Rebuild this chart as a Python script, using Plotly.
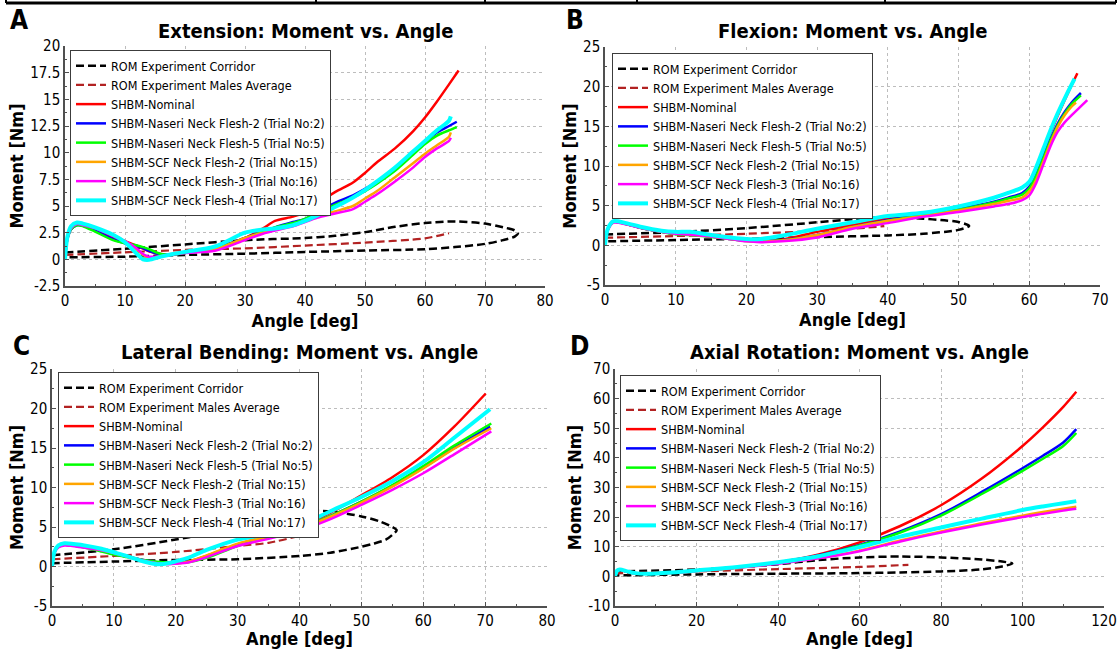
import plotly.graph_objects as go

W, H = 1120, 649
FONT = "DejaVu Sans Condensed, Liberation Sans, Arial, sans-serif"

# ---------------------------------------------------------------- series styling
CORRIDOR_NAME = "ROM Experiment Corridor"
AVERAGE_NAME = "ROM Experiment Males Average"
MODEL_NAMES = [
    "SHBM-Nominal",
    "SHBM-Naseri Neck Flesh-2 (Trial No:2)",
    "SHBM-Naseri Neck Flesh-5 (Trial No:5)",
    "SHBM-SCF Neck Flesh-2 (Trial No:15)",
    "SHBM-SCF Neck Flesh-3 (Trial No:16)",
    "SHBM-SCF Neck Flesh-4 (Trial No:17)",
]
MODEL_COLORS = ["#ff0000", "#0000ff", "#00ff00", "#ffa500", "#ff00ff", "#00ffff"]
MODEL_WIDTHS = [2.5, 2.5, 2.5, 2.5, 2.5, 4]

# ---------------------------------------------------------------- A: extension
EXT_CORRIDOR_ANGLE = [0, 10, 20, 30, 40, 45, 50, 55, 60, 65, 70, 73, 74.8, 75.5, 75, 73, 70, 65, 60, 50, 40, 30, 20, 10, 0]
EXT_CORRIDOR_MOMENT = [0.65, 1.0, 1.4, 1.8, 2.0, 2.2, 2.55, 3.05, 3.4, 3.55, 3.35, 3.0, 2.75, 2.45, 2.15, 1.8, 1.45, 1.15, 0.95, 0.82, 0.69, 0.53, 0.41, 0.25, 0.19]
EXT_AVERAGE_ANGLE = [0, 10, 20, 30, 40, 50, 60, 64]
EXT_AVERAGE_MOMENT = [0.41, 0.66, 0.88, 1.03, 1.29, 1.57, 1.97, 2.45]
EXT_ANGLE = [0, 0.4, 1, 2, 3, 5, 8, 10, 12, 13, 14, 16, 18, 20, 25, 30, 33, 35, 38, 40, 42, 45, 48, 50, 52, 55, 58, 60, 62, 64]
EXT_NOMINAL = [0, 2.0, 2.9, 3.25, 3.2, 2.8, 2.1, 1.7, 1.25, 1.0, 0.75, 0.5, 0.5, 0.6, 1.1, 2.0, 2.9, 3.6, 4.0, 4.4, 5.2, 6.3, 7.2, 8.1, 9.1, 10.4, 12.0, 13.3, 14.8, 16.4]
EXT_NASERI_2 = [0, 1.9, 2.8, 3.2, 3.15, 2.7, 1.9, 1.5, 1.25, 1.05, 0.8, 0.45, 0.45, 0.6, 1.0, 2.0, 2.6, 3.0, 3.5, 3.8, 4.4, 5.3, 6.0, 6.6, 7.3, 8.5, 10.0, 11.0, 11.9, 12.5]
EXT_NASERI_5 = [0, 1.9, 2.8, 3.2, 3.1, 2.6, 1.8, 1.5, 1.3, 1.15, 0.95, 0.5, 0.45, 0.6, 1.0, 1.95, 2.6, 3.0, 3.4, 3.8, 4.3, 5.1, 5.8, 6.4, 7.1, 8.3, 9.8, 10.8, 11.6, 12.1]
EXT_SCF_2 = [0, 2.0, 3.0, 3.4, 3.3, 3.0, 2.3, 1.7, 0.9, 0.4, 0.15, 0.3, 0.5, 0.65, 0.95, 2.0, 2.5, 2.8, 3.2, 3.6, 4.0, 4.5, 5.0, 5.7, 6.4, 7.7, 9.0, 9.9, 10.7, 11.5]
EXT_SCF_3 = [0, 1.9, 2.9, 3.3, 3.2, 2.9, 2.2, 1.7, 1.0, 0.5, 0.25, 0.3, 0.45, 0.6, 0.8, 1.8, 2.4, 2.7, 3.1, 3.5, 3.9, 4.3, 4.7, 5.4, 6.1, 7.3, 8.6, 9.6, 10.4, 11.1]
EXT_SCF_4 = [0, 2.1, 3.1, 3.45, 3.35, 3.0, 2.3, 1.6, 0.5, 0.0, -0.05, 0.25, 0.5, 0.7, 1.2, 2.5, 2.8, 2.9, 3.2, 3.6, 4.1, 4.9, 5.8, 6.5, 7.3, 8.6, 10.1, 11.1, 12.1, 13.0]
EXT_END_ANGLE = [65.6, 65.3, 65.3, 64.3, 64.3, 64.3]
EXT_END_MOMENT = [17.7, 12.9, 12.4, 11.9, 11.4, 13.4]
EXT_XTICKS = [0, 10, 20, 30, 40, 50, 60, 70, 80]
EXT_YTICKS = [-2.5, 0, 2.5, 5, 7.5, 10, 12.5, 15, 17.5, 20]
EXT_YTICK_TEXT = ["-2.5", "0", "2.5", "5", "7.5", "10", "12.5", "15", "17.5", "20"]

# ---------------------------------------------------------------- B: flexion
FLX_CORRIDOR_ANGLE = [0, 10, 20, 30, 35, 40, 45, 48, 50, 51.5, 50, 45, 40, 30, 20, 10, 0]
FLX_CORRIDOR_MOMENT = [1.38, 1.67, 2.17, 2.9, 3.3, 3.54, 3.35, 3.15, 2.95, 2.45, 1.95, 1.46, 1.25, 1.04, 0.83, 0.67, 0.5]
FLX_AVERAGE_ANGLE = [0, 10, 20, 30, 35, 39.5]
FLX_AVERAGE_MOMENT = [0.96, 1.17, 1.46, 1.8, 2.08, 2.42]
FLX_ANGLE = [0, 0.4, 1.2, 3, 5, 8, 10, 12, 15, 18, 20, 22, 25, 30, 35, 40, 45, 50, 55, 57, 59, 60, 61, 62, 63, 64, 65, 66]
FLX_NOMINAL = [0, 2.0, 2.95, 2.7, 2.2, 1.7, 1.45, 1.35, 1.1, 0.8, 0.6, 0.55, 0.7, 1.7, 2.6, 3.4, 3.9, 4.8, 6.0, 6.6, 7.3, 8.0, 9.8, 12.0, 14.2, 16.3, 18.3, 20.2]
FLX_NASERI_2 = [0, 2.0, 2.95, 2.7, 2.2, 1.7, 1.45, 1.35, 1.1, 0.8, 0.6, 0.55, 0.65, 1.3, 2.3, 3.2, 3.8, 4.6, 5.5, 6.0, 6.6, 7.4, 9.0, 11.3, 13.4, 15.3, 16.8, 18.0]
FLX_NASERI_5 = [0, 2.0, 2.95, 2.7, 2.2, 1.7, 1.4, 1.3, 1.05, 0.75, 0.55, 0.5, 0.6, 1.2, 2.2, 3.1, 3.8, 4.5, 5.4, 5.9, 6.4, 7.2, 8.8, 11.0, 13.2, 15.1, 16.6, 17.8]
FLX_SCF_2 = [0, 2.0, 2.9, 2.7, 2.25, 1.75, 1.5, 1.4, 1.1, 0.8, 0.55, 0.45, 0.6, 1.3, 2.3, 3.1, 3.7, 4.4, 5.2, 5.6, 6.0, 6.8, 8.3, 10.6, 12.9, 14.9, 16.4, 17.5]
FLX_SCF_3 = [0, 1.9, 2.85, 2.65, 2.2, 1.7, 1.45, 1.35, 1.1, 0.75, 0.5, 0.4, 0.5, 1.0, 2.1, 2.8, 3.6, 4.2, 4.9, 5.2, 5.7, 6.3, 7.9, 10.2, 12.5, 14.3, 15.5, 16.4]
FLX_SCF_4 = [0, 2.1, 3.05, 2.8, 2.35, 1.85, 1.7, 1.7, 1.3, 0.95, 0.8, 0.8, 1.2, 2.1, 2.9, 3.7, 4.1, 4.9, 6.0, 6.6, 7.3, 8.0, 9.9, 12.2, 14.5, 16.6, 18.5, 20.3]
FLX_END_ANGLE = [66.8, 67.3, 67.3, 66.6, 68.2, 66.4]
FLX_END_MOMENT = [21.7, 19.2, 18.9, 18.0, 18.3, 21.0]
FLX_XTICKS = [0, 10, 20, 30, 40, 50, 60, 70]
FLX_YTICKS = [-5, 0, 5, 10, 15, 20, 25]
FLX_YTICK_TEXT = ["-5", "0", "5", "10", "15", "20", "25"]

# ---------------------------------------------------------------- C: lateral bending
LAT_CORRIDOR_ANGLE = [0, 10, 20, 25, 30, 33, 36, 40, 45, 50, 53, 55, 55.7, 55, 54, 52, 50, 45, 40, 30, 20, 10, 0]
LAT_CORRIDOR_MOMENT = [1.42, 2.17, 3.42, 4.17, 5.5, 6.3, 6.85, 7.05, 6.97, 6.34, 5.7, 5.0, 4.6, 4.0, 3.42, 2.9, 2.5, 1.75, 1.34, 0.92, 0.83, 0.63, 0.42]
LAT_AVERAGE_ANGLE = [0, 10, 20, 30, 35, 41.5]
LAT_AVERAGE_MOMENT = [0.92, 1.34, 1.84, 2.6, 3.0, 4.17]
LAT_ANGLE = [0, 0.4, 1, 2, 5, 8, 10, 12, 15, 17, 19, 20, 22, 25, 30, 35, 40, 45, 50, 55, 60, 65]
LAT_NOMINAL = [0, 1.8, 2.5, 2.75, 2.5, 2.1, 1.75, 1.35, 0.75, 0.45, 0.35, 0.4, 0.65, 1.35, 2.8, 3.9, 5.1, 6.8, 9.0, 11.3, 14.1, 17.7]
LAT_NASERI_2 = [0, 1.8, 2.5, 2.75, 2.5, 2.05, 1.6, 1.25, 0.8, 0.55, 0.45, 0.45, 0.6, 1.2, 2.7, 3.7, 4.8, 6.4, 8.2, 10.2, 12.5, 15.0]
LAT_NASERI_5 = [0, 1.8, 2.5, 2.75, 2.45, 1.9, 1.5, 1.2, 0.8, 0.6, 0.5, 0.45, 0.55, 1.1, 2.6, 3.7, 4.8, 6.4, 8.2, 10.3, 12.7, 15.3]
LAT_SCF_2 = [0, 1.8, 2.5, 2.75, 2.5, 2.1, 1.7, 1.3, 0.7, 0.4, 0.35, 0.4, 0.6, 1.4, 2.9, 3.8, 4.8, 6.3, 8.1, 10.1, 12.4, 14.9]
LAT_SCF_3 = [0, 1.7, 2.4, 2.65, 2.4, 2.05, 1.7, 1.3, 0.7, 0.4, 0.3, 0.35, 0.5, 1.2, 2.6, 3.5, 4.55, 6.0, 7.8, 9.7, 11.8, 14.2]
LAT_SCF_4 = [0, 1.9, 2.65, 2.95, 2.7, 2.25, 1.8, 1.35, 0.6, 0.3, 0.45, 0.65, 1.1, 2.1, 3.4, 4.1, 5.2, 7.0, 8.8, 10.8, 13.2, 16.3]
LAT_END_ANGLE = [70.1, 70.8, 71.0, 71.0, 71.0, 70.8]
LAT_END_MOMENT = [21.9, 17.7, 18.1, 17.5, 17.1, 19.9]
LAT_XTICKS = [0, 10, 20, 30, 40, 50, 60, 70, 80]
LAT_YTICKS = [-5, 0, 5, 10, 15, 20, 25]
LAT_YTICK_TEXT = ["-5", "0", "5", "10", "15", "20", "25"]

# ---------------------------------------------------------------- D: axial rotation
ROT_CORRIDOR_ANGLE = [0, 20, 30, 40, 50, 60, 70, 80, 90, 95, 97.5, 95, 90, 80, 70, 60, 40, 20, 0]
ROT_CORRIDOR_MOMENT = [1.67, 2.3, 3.0, 4.1, 5.5, 6.4, 6.7, 6.4, 5.7, 5.0, 4.35, 3.35, 2.35, 1.67, 1.34, 1.1, 0.9, 0.67, 0.33]
ROT_AVERAGE_ANGLE = [0, 20, 40, 60, 72]
ROT_AVERAGE_MOMENT = [1.0, 1.67, 2.45, 3.2, 3.9]
ROT_ANGLE = [0, 0.5, 1.2, 3, 5, 8, 10, 15, 20, 30, 40, 50, 60, 70, 80, 90, 100, 105, 110]
ROT_NOMINAL = [0, 1.8, 2.2, 1.6, 1.0, 0.9, 1.0, 1.3, 1.8, 3.0, 4.7, 7.4, 11.5, 17.0, 24.0, 33.0, 44.0, 50.3, 57.2]
ROT_NASERI_2 = [0, 1.8, 2.2, 1.6, 1.0, 0.9, 1.0, 1.3, 1.8, 3.0, 4.7, 7.1, 10.6, 15.2, 21.0, 28.5, 36.5, 40.7, 45.2]
ROT_NASERI_5 = [0, 1.8, 2.2, 1.6, 1.0, 0.9, 1.0, 1.3, 1.8, 3.0, 4.7, 7.0, 10.4, 14.8, 20.5, 27.8, 35.6, 39.7, 44.0]
ROT_SCF_2 = [0, 1.8, 2.2, 1.6, 1.0, 0.9, 1.0, 1.3, 1.8, 2.9, 4.4, 6.2, 8.7, 12.1, 15.2, 17.9, 20.5, 21.7, 22.8]
ROT_SCF_3 = [0, 1.8, 2.2, 1.6, 1.0, 0.9, 1.0, 1.3, 1.8, 2.9, 4.3, 6.1, 8.5, 11.8, 14.8, 17.5, 20.0, 21.1, 22.2]
ROT_SCF_4 = [0, 1.9, 2.3, 1.7, 1.1, 0.9, 1.0, 1.4, 2.0, 3.2, 4.8, 6.8, 9.9, 13.4, 16.5, 19.5, 22.4, 23.6, 24.7]
ROT_END_ANGLE = [113.2, 113.2, 113.2, 113.2, 113.2, 113.2]
ROT_END_MOMENT = [62.3, 49.7, 48.4, 23.5, 22.8, 25.4]
ROT_XTICKS = [0, 20, 40, 60, 80, 100, 120]
ROT_YTICKS = [-10, 0, 10, 20, 30, 40, 50, 60, 70]
ROT_YTICK_TEXT = ["-10", "0", "10", "20", "30", "40", "50", "60", "70"]

# ---------------------------------------------------------------- panel layout (pixel boxes)
PANELS = [
    dict(letter="A", title="Extension: Moment vs. Angle", box=(65, 46, 545, 286), legend_at=(70, 50),
         letter_at=(19, 20), xminor=5, yminor=1.25,
         corridor=(EXT_CORRIDOR_ANGLE, EXT_CORRIDOR_MOMENT), average=(EXT_AVERAGE_ANGLE, EXT_AVERAGE_MOMENT),
         angle=EXT_ANGLE, models=[EXT_NOMINAL, EXT_NASERI_2, EXT_NASERI_5, EXT_SCF_2, EXT_SCF_3, EXT_SCF_4],
         end=(EXT_END_ANGLE, EXT_END_MOMENT), xticks=EXT_XTICKS, yticks=EXT_YTICKS, yticktext=EXT_YTICK_TEXT),
    dict(letter="B", title="Flexion: Moment vs. Angle", box=(605, 47, 1100, 285), legend_at=(612, 53),
         letter_at=(575, 20), xminor=5, yminor=2.5,
         corridor=(FLX_CORRIDOR_ANGLE, FLX_CORRIDOR_MOMENT), average=(FLX_AVERAGE_ANGLE, FLX_AVERAGE_MOMENT),
         angle=FLX_ANGLE, models=[FLX_NOMINAL, FLX_NASERI_2, FLX_NASERI_5, FLX_SCF_2, FLX_SCF_3, FLX_SCF_4],
         end=(FLX_END_ANGLE, FLX_END_MOMENT), xticks=FLX_XTICKS, yticks=FLX_YTICKS, yticktext=FLX_YTICK_TEXT),
    dict(letter="C", title="Lateral Bending: Moment vs. Angle", box=(52, 369, 547, 606), legend_at=(58, 372),
         letter_at=(21, 346), xminor=5, yminor=2.5,
         corridor=(LAT_CORRIDOR_ANGLE, LAT_CORRIDOR_MOMENT), average=(LAT_AVERAGE_ANGLE, LAT_AVERAGE_MOMENT),
         angle=LAT_ANGLE, models=[LAT_NOMINAL, LAT_NASERI_2, LAT_NASERI_5, LAT_SCF_2, LAT_SCF_3, LAT_SCF_4],
         end=(LAT_END_ANGLE, LAT_END_MOMENT), xticks=LAT_XTICKS, yticks=LAT_YTICKS, yticktext=LAT_YTICK_TEXT),
    dict(letter="D", title="Axial Rotation: Moment vs. Angle", box=(615, 369, 1104, 606), legend_at=(620, 375),
         letter_at=(579, 346), xminor=10, yminor=5,
         corridor=(ROT_CORRIDOR_ANGLE, ROT_CORRIDOR_MOMENT), average=(ROT_AVERAGE_ANGLE, ROT_AVERAGE_MOMENT),
         angle=ROT_ANGLE, models=[ROT_NOMINAL, ROT_NASERI_2, ROT_NASERI_5, ROT_SCF_2, ROT_SCF_3, ROT_SCF_4],
         end=(ROT_END_ANGLE, ROT_END_MOMENT), xticks=ROT_XTICKS, yticks=ROT_YTICKS, yticktext=ROT_YTICK_TEXT),
]


def fx(p):
    return p / W


def fy(p):
    return 1 - p / H


fig = go.Figure()
layout = dict(
    width=W, height=H, autosize=False, template="none",
    margin=dict(l=0, r=0, t=0, b=0, pad=0),
    paper_bgcolor="white", plot_bgcolor="white",
    font=dict(family=FONT, color="black"),
    showlegend=True, annotations=[], shapes=[],
)

AXIS_COMMON = dict(
    showline=True, linecolor="#505050", linewidth=1.5, mirror=False,
    showgrid=True, gridcolor="#bdbdbd", gridwidth=1, griddash="dot",
    zeroline=False, ticks="inside", ticklen=4, tickcolor="#505050", tickwidth=1,
    tickfont=dict(family=FONT, size=15, color="black"), automargin=False,
)

for i, p in enumerate(PANELS):
    n = i + 1
    xa = "x" if n == 1 else f"x{n}"
    ya = "y" if n == 1 else f"y{n}"
    leg = "legend" if n == 1 else f"legend{n}"
    x0, y0, x1, y1 = p["box"]

    # experimental corridor and average
    fig.add_trace(go.Scatter(x=p["corridor"][0], y=p["corridor"][1], mode="lines", name=CORRIDOR_NAME,
                             line=dict(color="black", width=2.5, dash="8px,4px", shape="spline", smoothing=0.8),
                             xaxis=xa, yaxis=ya, legend=leg, hoverinfo="skip"))
    fig.add_trace(go.Scatter(x=p["average"][0], y=p["average"][1], mode="lines", name=AVERAGE_NAME,
                             line=dict(color="#b22222", width=2.2, dash="8px,4px", shape="spline", smoothing=0.8),
                             xaxis=xa, yaxis=ya, legend=leg, hoverinfo="skip"))
    # simulation curves
    for k, ys in enumerate(p["models"]):
        xs = list(p["angle"]) + [p["end"][0][k]]
        yv = list(ys) + [p["end"][1][k]]
        fig.add_trace(go.Scatter(x=xs, y=yv, mode="lines", name=MODEL_NAMES[k],
                                 line=dict(color=MODEL_COLORS[k], width=MODEL_WIDTHS[k], shape="spline", smoothing=0.8),
                                 xaxis=xa, yaxis=ya, legend=leg, hoverinfo="skip"))

    xt, yt = p["xticks"], p["yticks"]
    layout["xaxis" if n == 1 else f"xaxis{n}"] = dict(
        AXIS_COMMON, domain=[fx(x0), fx(x1)], anchor=ya, range=[xt[0], xt[-1]],
        tickmode="array", tickvals=xt, ticktext=[str(v) for v in xt],
        minor=dict(ticks="inside", ticklen=2.5, tickcolor="#505050", dtick=p["xminor"], tick0=0, showgrid=False),
        title=dict(text="Angle [deg]", font=dict(family=FONT, size=18, weight="bold"), standoff=2),
    )
    layout["yaxis" if n == 1 else f"yaxis{n}"] = dict(
        AXIS_COMMON, domain=[fy(y1), fy(y0)], anchor=xa, range=[yt[0], yt[-1]],
        tickmode="array", tickvals=yt, ticktext=p["yticktext"],
        minor=dict(ticks="inside", ticklen=2.5, tickcolor="#505050", dtick=p["yminor"], tick0=0, showgrid=False),
        title=dict(text="Moment [Nm]", font=dict(family=FONT, size=18, weight="bold"), standoff=2),
    )
    lx, ly = p["legend_at"]
    layout[leg] = dict(
        x=fx(lx), y=fy(ly), xanchor="left", yanchor="top", xref="paper", yref="paper",
        bgcolor="white", bordercolor="#3c3c3c", borderwidth=1,
        font=dict(family=FONT, size=12.5, color="black"),
        itemwidth=30, tracegroupgap=0, traceorder="normal",
    )
    title_y = 31 if y0 < 100 else 352
    layout["annotations"].append(dict(
        text=p["title"], x=fx((x0 + x1) / 2), y=fy(title_y), xref="paper", yref="paper",
        xanchor="center", yanchor="middle", showarrow=False,
        font=dict(family=FONT, size=20, weight="bold", color="black")))
    layout["annotations"].append(dict(
        text=p["letter"], x=fx(p["letter_at"][0]), y=fy(p["letter_at"][1]), xref="paper", yref="paper",
        xanchor="center", yanchor="middle", showarrow=False,
        font=dict(family=FONT, size=26, weight="bold", color="black")))

# table rule running along the top edge of the figure
layout["shapes"].append(dict(type="line", xref="paper", yref="paper", x0=fx(6), x1=fx(1116), y0=fy(3), y1=fy(3),
                             line=dict(color="black", width=3)))
for vx in [6, 316, 485, 637, 885, 1116]:
    layout["shapes"].append(dict(type="line", xref="paper", yref="paper", x0=fx(vx), x1=fx(vx), y0=fy(0), y1=fy(3),
                                 line=dict(color="black", width=2)))

fig.update_layout(**layout)
fig.write_html("out.html")
